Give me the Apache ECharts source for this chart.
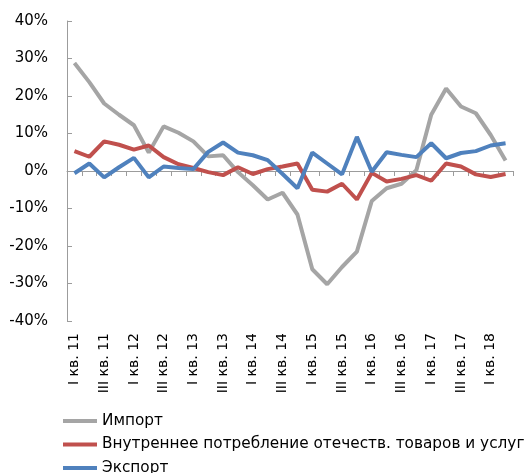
<!DOCTYPE html>
<html>
<head>
<meta charset="utf-8">
<script src="https://cdn.jsdelivr.net/npm/echarts@6/dist/echarts.min.js"></script>
<style>html,body{margin:0;padding:0;background:#fff}#c{width:532px;height:473px}</style>
</head>
<body>
<div id="c"></div>
<script>
var categories = [
  'I кв. 11','II кв. 11','III кв. 11','IV кв. 11',
  'I кв. 12','II кв. 12','III кв. 12','IV кв. 12',
  'I кв. 13','II кв. 13','III кв. 13','IV кв. 13',
  'I кв. 14','II кв. 14','III кв. 14','IV кв. 14',
  'I кв. 15','II кв. 15','III кв. 15','IV кв. 15',
  'I кв. 16','II кв. 16','III кв. 16','IV кв. 16',
  'I кв. 17','II кв. 17','III кв. 17','IV кв. 17',
  'I кв. 18','II кв. 18'
];
var importValues = [28.8, 23.7, 18.0, 15.0, 12.2, 4.9, 11.9, 10.2, 7.9, 3.9, 4.2, -0.3, -3.8, -7.6, -5.8, -11.6, -26.2, -30.2, -25.6, -21.5, -8.0, -4.6, -3.4, 0.2, 15.0, 22.0, 17.2, 15.4, 9.6, 2.8];
var domesticValues = [5.3, 3.8, 7.9, 7.0, 5.7, 6.8, 3.7, 1.8, 0.8, -0.3, -1.1, 1.0, -0.8, 0.5, 1.2, 2.0, -5.0, -5.5, -3.4, -7.6, -0.5, -2.8, -2.1, -1.1, -2.6, 2.0, 1.2, -0.9, -1.6, -0.8];
var exportValues = [-0.6, 2.0, -1.7, 1.0, 3.5, -1.7, 1.2, 0.8, 0.5, 5.1, 7.6, 4.9, 4.2, 2.9, -0.8, -4.6, 4.9, 2.0, -0.9, 9.1, -0.2, 5.0, 4.3, 3.7, 7.4, 3.4, 4.8, 5.3, 6.8, 7.4];
var seriesNames = ['Импорт', 'Внутреннее потребление отечеств. товаров и услуг', 'Экспорт'];

var font = 'DejaVu Sans';
var axisGrey = '#9c9c9c';
var chart = echarts.init(document.getElementById('c'), null, {renderer: 'canvas'});
chart.setOption({
  animation: false,
  grid: {left: 67, right: 19, top: 21, bottom: 152, containLabel: false},
  legend: {
    orient: 'vertical', left: 63, top: 412, height: 120, padding: 0,
    icon: 'rect', itemWidth: 34, itemHeight: 4, itemGap: 5.5,
    textStyle: {fontFamily: font, fontSize: 15.3, color: '#000', lineHeight: 18},
    data: seriesNames
  },
  xAxis: [
    {
      type: 'category', data: categories, boundaryGap: true, position: 'bottom',
      axisLine: {onZero: true, lineStyle: {color: axisGrey, width: 1}},
      axisTick: {show: true, interval: 0, length: 5, lineStyle: {color: axisGrey}},
      axisLabel: {show: false},
      splitLine: {show: false}
    },
    {
      type: 'category', data: categories, boundaryGap: true, position: 'bottom',
      axisLine: {show: false, onZero: false},
      axisTick: {show: false},
      axisLabel: {show: true, interval: 1, rotate: 90, margin: 12, fontFamily: font, fontSize: 14, color: '#000'},
      splitLine: {show: false}
    }
  ],
  yAxis: {
    type: 'value', min: -40, max: 40, interval: 10,
    axisLine: {show: true, lineStyle: {color: axisGrey, width: 1}},
    axisTick: {show: true, inside: true, length: 5, lineStyle: {color: axisGrey}},
    axisLabel: {formatter: '{value}%', margin: 19, fontFamily: font, fontSize: 15, color: '#000'},
    splitLine: {show: false}
  },
  series: [
    {name: seriesNames[0], type: 'line', data: importValues, symbol: 'none', xAxisIndex: 0,
     lineStyle: {color: '#a5a5a5', width: 4}, itemStyle: {color: '#a5a5a5'}},
    {name: seriesNames[1], type: 'line', data: domesticValues, symbol: 'none', xAxisIndex: 0,
     lineStyle: {color: '#c0504d', width: 4}, itemStyle: {color: '#c0504d'}},
    {name: seriesNames[2], type: 'line', data: exportValues, symbol: 'none', xAxisIndex: 0,
     lineStyle: {color: '#4f81bd', width: 4}, itemStyle: {color: '#4f81bd'}}
  ]
});
</script>
</body>
</html>
